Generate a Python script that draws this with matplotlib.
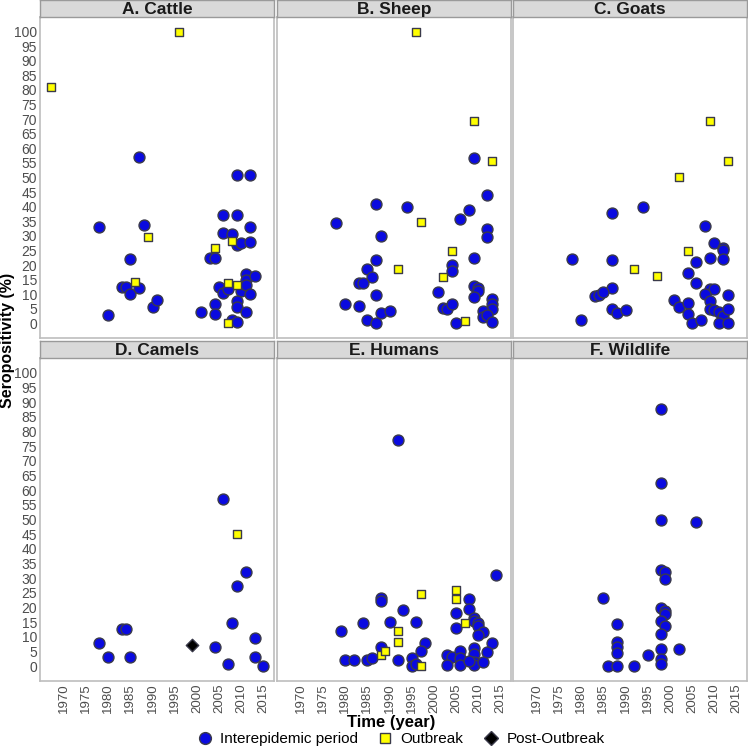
import matplotlib
matplotlib.use("Agg")
import matplotlib.pyplot as plt
from matplotlib.lines import Line2D

plt.rcParams['font.family'] = ['Liberation Sans', 'DejaVu Sans']

# ---------------- data ----------------
panel_titles = ["A. Cattle", "B. Sheep", "C. Goats", "D. Camels", "E. Humans", "F. Wildlife"]
year_ticks = [1970, 1975, 1980, 1985, 1990, 1995, 2000, 2005, 2010, 2015]
value_ticks = list(range(0, 101, 5))

cattle_inter_year = [1978, 1980, 1987, 1988, 1985, 1983, 1984, 1985, 1987, 1990, 1991, 2001, 2003, 2004, 2004, 2004,
                     2006, 2006, 2008, 2009, 2009, 2012, 2009, 2010, 2012, 2012, 2005, 2006, 2007, 2010, 2011, 2011,
                     2011, 2013, 2012, 2009, 2009, 2011, 2008, 2009]
cattle_inter_val = [33.2, 3.0, 57.1, 33.8, 22.1, 12.6, 12.6, 10.1, 12.2, 5.7, 8.0, 4.0, 22.5, 22.5, 6.7, 3.2,
                    37.0, 31.0, 30.7, 37.0, 51.0, 50.7, 26.7, 27.5, 27.9, 33.2, 12.4, 10.3, 11.9, 11.0, 16.8, 14.8,
                    13.1, 16.3, 10.1, 7.8, 5.7, 3.9, 1.0, 0.4]
cattle_outb_year = [1967, 1996, 1989, 1986, 2004, 2008, 2007, 2009, 2007]
cattle_outb_val = [81.0, 100.0, 29.6, 14.1, 25.8, 28.1, 13.7, 13.0, 0.0]

sheep_inter_year = [1978, 1987, 1994, 1988, 1987, 1985, 1986, 1983, 1984, 1987, 1980, 1983, 1988, 1990, 1985, 1987,
                    2009, 2012, 2008, 2006, 2012, 2012, 2009, 2004, 2004, 2001, 2009, 2010, 2010, 2009, 2002, 2003,
                    2004, 2005, 2013, 2013, 2013, 2011, 2011, 2012, 2013]
sheep_inter_val = [34.4, 41.0, 40.0, 30.0, 21.7, 18.8, 15.8, 13.7, 13.7, 9.8, 6.6, 5.9, 3.6, 4.4, 1.3, 0.0,
                   56.8, 44.1, 39.0, 35.8, 32.3, 29.6, 22.4, 20.1, 17.8, 10.7, 12.9, 12.3, 11.2, 9.2, 5.3, 5.1,
                   6.7, 0.0, 8.4, 6.7, 4.9, 4.2, 2.3, 2.8, 0.4]
sheep_outb_year = [1996, 2009, 2013, 1997, 1992, 2004, 2002, 2007]
sheep_outb_val = [100.0, 69.4, 55.7, 34.8, 18.7, 24.7, 16.0, 0.8]

goat_inter_year = [1978, 1980, 1987, 1994, 1987, 1987, 1983, 1984, 1985, 1987, 1988, 1990, 2008, 2010, 2012, 2012,
                   2009, 2012, 2006, 2004, 2006, 2009, 2010, 2008, 2009, 2013, 2001, 2002, 2004, 2004, 2005, 2007,
                   2009, 2010, 2011, 2012, 2013, 2011, 2013]
goat_inter_val = [22.1, 1.0, 38.0, 40.0, 21.8, 12.3, 9.4, 9.7, 10.6, 5.1, 3.5, 4.5, 33.4, 27.6, 26.0, 25.2,
                  22.5, 22.1, 21.2, 17.4, 13.8, 11.7, 11.9, 10.0, 7.7, 9.6, 8.0, 5.5, 6.9, 3.1, 0.1, 1.0,
                  4.9, 4.7, 4.0, 2.4, 4.9, 0.1, 0.1]
goat_outb_year = [2009, 2013, 2002, 2004, 1992, 1997]
goat_outb_val = [69.4, 55.7, 50.1, 24.7, 18.7, 16.4]

camel_inter_year = [1978, 1983, 1984, 1980, 1985, 2004, 2006, 2011, 2009, 2008, 2013, 2013, 2007, 2015]
camel_inter_val = [7.8, 12.7, 12.7, 3.1, 3.1, 6.6, 57.0, 32.0, 27.4, 14.9, 9.7, 3.1, 0.9, 0.0]
camel_outb_year = [2009]
camel_outb_val = [44.9]
camel_post_year = [1999]
camel_post_val = [7.2]

human_inter_year = [1992, 2014, 2008, 1988, 1988, 1993, 2008, 2005, 1984, 1990, 1996, 1979, 2009, 2009, 2010, 2010,
                    2011, 2010, 2005, 1998, 2013, 1997, 2012, 1988, 1980, 1982, 1985, 1986, 1992, 1995, 1995, 1996,
                    2003, 2004, 2003, 2006, 2006, 2006, 2009, 2009, 2009, 2009, 2008, 2011]
human_inter_val = [77.1, 31.0, 23.0, 23.1, 22.3, 19.1, 19.5, 18.0, 14.8, 15.0, 15.0, 12.1, 16.6, 15.5, 14.6, 13.7,
                   11.7, 10.6, 12.9, 8.0, 7.8, 5.1, 5.0, 6.6, 2.0, 2.0, 2.3, 2.8, 2.0, 3.0, 0.0, 0.9,
                   3.9, 3.2, 0.6, 5.2, 3.0, 0.3, 6.1, 4.1, 1.5, 0.5, 1.8, 1.4]
human_outb_year = [1997, 2005, 2005, 2007, 1992, 1992, 1988, 1989, 1997]
human_outb_val = [24.5, 25.9, 23.0, 14.9, 11.9, 8.4, 4.0, 5.3, 0.0]

wild_inter_year = [1998, 1998, 1998, 2006, 1998, 1999, 1999, 1985, 1998, 1999, 1999, 1998, 1999, 1998, 1988, 1988,
                   1988, 1988, 1998, 2002, 1995, 1986, 1988, 1992, 1998, 1998]
wild_inter_val = [87.6, 62.5, 49.9, 49.0, 32.7, 32.0, 29.9, 23.1, 20.0, 18.8, 17.7, 15.5, 13.8, 10.9, 14.4, 8.3,
                  6.5, 4.4, 5.9, 5.9, 3.9, 0.0, 0.0, 0.0, 2.5, 0.8]

panels = [
    (cattle_inter_year, cattle_inter_val, cattle_outb_year, cattle_outb_val, [], []),
    (sheep_inter_year, sheep_inter_val, sheep_outb_year, sheep_outb_val, [], []),
    (goat_inter_year, goat_inter_val, goat_outb_year, goat_outb_val, [], []),
    (camel_inter_year, camel_inter_val, camel_outb_year, camel_outb_val, camel_post_year, camel_post_val),
    (human_inter_year, human_inter_val, human_outb_year, human_outb_val, [], []),
    (wild_inter_year, wild_inter_val, [], [], [], []),
]

# ---------------- styling ----------------
W = H = 748.0
blue = "#0a0ae0"
yellow = "#ffff00"
edge = "#3a3a4a"
tick_color = "#4d4d4d"
border = "#bdbdbd"
strip_fill = "#d9d9d9"
strip_edge = "#9a9a9a"

fig = plt.figure(figsize=(7.48, 7.48), dpi=100)

lefts = [40, 277, 513]
pw = 234
rows = [(17, 338, 0), (358, 681, 341)]  # panel top, panel bottom, strip top

def fx(px):
    return px / W

def fy(py):
    return 1 - py / H

for i, (iy, iv, oy, ov, py_, pv) in enumerate(panels):
    r, c = divmod(i, 3)
    top, bot, stop = rows[r]
    ax = fig.add_axes([fx(lefts[c]), fy(bot), pw / W, (bot - top) / H])
    ax.set_xlim(1964.6, 2017.4)
    ax.set_ylim(-5, 105)
    ax.scatter(iy, iv, s=62, marker='o', facecolor=blue, edgecolor=edge, linewidths=1.0, zorder=3)
    if oy:
        ax.scatter(oy, ov, s=38, marker='s', facecolor=yellow, edgecolor=edge, linewidths=1.0, zorder=4)
    if py_:
        ax.scatter(py_, pv, s=40, marker='D', facecolor='black', edgecolor=edge, linewidths=1.0, zorder=5)
    ax.set_xticks(year_ticks)
    ax.set_yticks(value_ticks)
    ax.tick_params(length=0, pad=2, colors=tick_color)
    if c == 0:
        ax.set_yticklabels([str(v) for v in value_ticks], fontsize=10, color=tick_color)
    else:
        ax.set_yticklabels([])
    if r == 1:
        ax.set_xticklabels([str(v) for v in year_ticks], rotation=90, fontsize=9.5, color=tick_color)
    else:
        ax.set_xticklabels([])
    for s in ax.spines.values():
        s.set_color(border)
        s.set_linewidth(1.2)
    # strip
    sax = fig.add_axes([fx(lefts[c]), fy(top), pw / W, (top - stop) / H])
    sax.set_facecolor(strip_fill)
    sax.set_xticks([])
    sax.set_yticks([])
    for s in sax.spines.values():
        s.set_color(strip_edge)
        s.set_linewidth(1.0)
    sax.text(0.5, 0.45, panel_titles[i], ha='center', va='center', fontsize=12.5,
             fontweight='bold', color='#1a1a1a', transform=sax.transAxes)

fig.text(fx(391), fy(723), "Time (year)", ha='center', va='center', fontsize=12, fontweight='bold')
fig.text(fx(8), fy(340), "Seropositivity (%)", ha='center', va='center', rotation=90,
         fontsize=11.5, fontweight='bold')

handles = [
    Line2D([], [], linestyle='none', marker='o', markersize=8.5, markerfacecolor=blue, markeredgecolor=edge),
    Line2D([], [], linestyle='none', marker='s', markersize=7, markerfacecolor=yellow, markeredgecolor=edge),
    Line2D([], [], linestyle='none', marker='D', markersize=7, markerfacecolor='black', markeredgecolor=edge),
]
labels = ["Interepidemic period", "Outbreak", "Post-Outbreak"]
fig.legend(handles, labels, loc='center', bbox_to_anchor=(fx(400), fy(739)), ncol=3, frameon=False,
           fontsize=11, handletextpad=0.4, columnspacing=1.2, borderpad=0, handlelength=1.2)

fig.savefig("out.png", dpi=100)
